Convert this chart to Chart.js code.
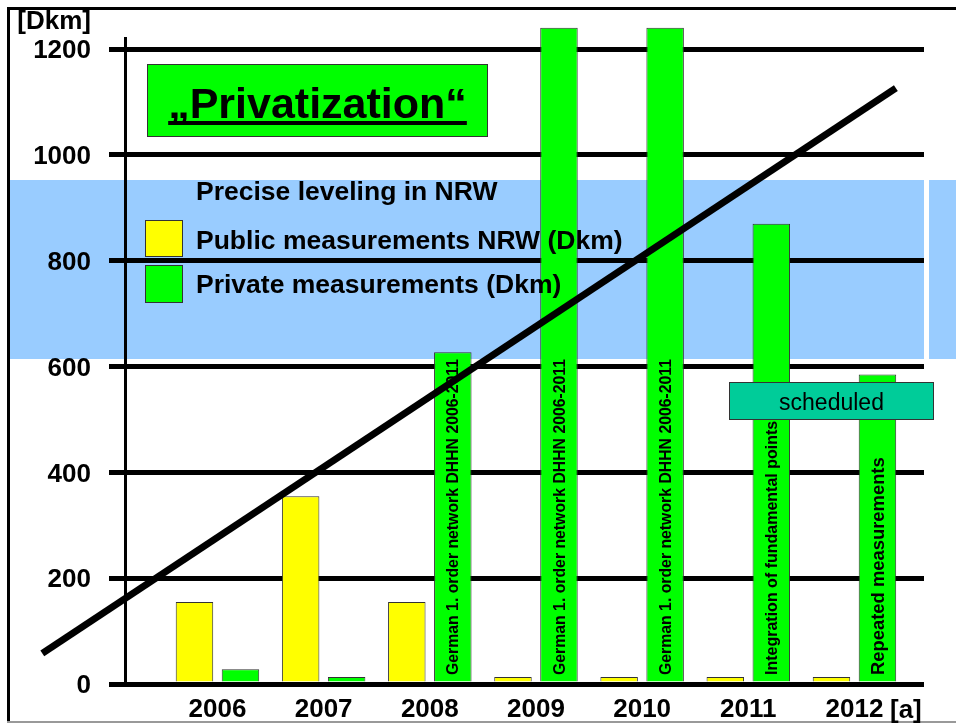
<!DOCTYPE html>
<html>
<head>
<meta charset="utf-8">
<title>Privatization - Precise leveling in NRW</title>
<script src="https://cdn.jsdelivr.net/npm/chart.js@4.4.1/dist/chart.umd.min.js"></script>
<style>
    html, body { margin: 0; padding: 0; background: #fff; }
    #wrap { position: relative; width: 956px; height: 725px; }
</style>
</head>
<body>
<div id="wrap"><canvas id="chart"></canvas></div>
<script>
// Data
const years = [2006, 2007, 2008, 2009, 2010, 2011, 2012];
const yearLabels = ['2006', '2007', '2008', '2009', '2010', '2011', '2012'];
const publicKm = [155, 355, 155, 13, 13, 13, 13];
const privateKm = [28, 13, 627, 1240, 1240, 870, 585];
const privateNotes = [
    '', '',
    'German 1. order network DHHN 2006-2011',
    'German 1. order network DHHN 2006-2011',
    'German 1. order network DHHN 2006-2011',
    'Integration of fundamental points',
    'Repeated measurements'
];
// trend line end points (year, Dkm)
const trendYears = [2004.35, 2012.39];
const trendKm = [58, 1126];
const yTicks = [0, 200, 400, 600, 800, 1000, 1200];

const FONT = '"Liberation Sans", Arial, Helvetica, sans-serif';
Chart.defaults.font.family = FONT;
Chart.defaults.color = '#000';

const YELLOW = '#FFFF00';
const GREEN = '#00FF00';
const OUTLINE = '#333333';

function noteSize(text) {
    if (text.startsWith('German')) return 15.8;
    if (text.startsWith('Integration')) return 16;
    return 18.4;
}

function box(ctx, x, y, w, h, fill) {
    ctx.fillStyle = fill;
    ctx.fillRect(x, y, w, h);
    ctx.strokeStyle = OUTLINE;
    ctx.lineWidth = 1;
    ctx.strokeRect(x + 0.5, y + 0.5, w - 1, h - 1);
}

const decorPlugin = {
    id: 'decor',
    beforeDraw(chart) {
        const ctx = chart.ctx;
        ctx.save();
        // slide frame
        ctx.fillStyle = '#000';
        ctx.fillRect(7, 7, 949, 3);
        ctx.fillRect(7, 7, 3, 716);
        ctx.fillStyle = '#999';
        ctx.fillRect(7, 721, 949, 2);
        // light blue band behind the legend
        ctx.fillStyle = '#99CCFF';
        ctx.fillRect(10, 180, 914, 179);
        ctx.fillRect(929, 180, 27, 179);
        ctx.restore();
    },
    beforeDatasetDraw(chart, args) {
        if (args.index !== 2) return;
        const ctx = chart.ctx;
        ctx.save();

        // notes written inside the green bars
        const greenBars = chart.getDatasetMeta(1).data;
        ctx.fillStyle = '#000';
        privateNotes.forEach((text, i) => {
            if (!text) return;
            const size = noteSize(text);
            ctx.save();
            ctx.font = `bold ${size}px ${FONT}`;
            ctx.textAlign = 'left';
            ctx.textBaseline = 'alphabetic';
            ctx.translate(greenBars[i].x + size * 0.358, 675);
            ctx.rotate(-Math.PI / 2);
            ctx.fillText(text, 0, 0);
            ctx.restore();
        });

        // legend
        ctx.fillStyle = '#000';
        ctx.font = `bold 26.5px ${FONT}`;
        ctx.textAlign = 'left';
        ctx.textBaseline = 'alphabetic';
        ctx.fillText('Precise leveling in NRW', 196, 200);
        box(ctx, 145, 220, 38, 37, YELLOW);
        box(ctx, 145, 265, 38, 38, GREEN);
        ctx.fillStyle = '#000';
        ctx.fillText(chart.data.datasets[0].label, 196, 249);
        ctx.fillText(chart.data.datasets[1].label, 196, 293);

        // title box
        box(ctx, 147, 64, 341, 73, GREEN);
        ctx.fillStyle = '#000';
        ctx.font = `bold 43px ${FONT}`;
        ctx.textAlign = 'center';
        const title = '\u201EPrivatization\u201C';
        ctx.fillText(title, 317.5, 118);
        const tw = ctx.measureText(title).width;
        ctx.fillRect(317.5 - tw / 2, 121, tw, 4);

        // scheduled box
        box(ctx, 729, 382, 205, 38, '#00CC99');
        ctx.fillStyle = '#000';
        ctx.font = `23px ${FONT}`;
        ctx.fillText('scheduled', 831.5, 410);

        ctx.restore();
    },
    afterDraw(chart) {
        const ctx = chart.ctx;
        ctx.save();
        ctx.fillStyle = '#000';
        ctx.font = `bold 26px ${FONT}`;
        ctx.textAlign = 'right';
        ctx.fillText('[Dkm]', 91, 29);
        ctx.textAlign = 'left';
        ctx.fillText('[a]', 890, 718);
        ctx.restore();
    }
};

new Chart(document.getElementById('chart'), {
    type: 'bar',
    data: {
        datasets: [
            {
                label: 'Public measurements NRW (Dkm)',
                data: years.map((x, i) => ({ x, y: publicKm[i] })),
                backgroundColor: YELLOW,
                borderColor: OUTLINE,
                borderWidth: 1,
                categoryPercentage: 0.8665,
                barPercentage: 0.815,
                clip: false
            },
            {
                label: 'Private measurements (Dkm)',
                data: years.map((x, i) => ({ x, y: privateKm[i] })),
                backgroundColor: GREEN,
                borderColor: OUTLINE,
                borderWidth: 1,
                categoryPercentage: 0.8665,
                barPercentage: 0.815,
                clip: false
            },
            {
                type: 'line',
                label: 'Trend',
                data: trendYears.map((x, i) => ({ x, y: trendKm[i] })),
                borderColor: '#000',
                borderWidth: 7,
                borderCapStyle: 'butt',
                pointRadius: 0,
                tension: 0,
                clip: false,
                order: -1
            }
        ]
    },
    options: {
        responsive: true,
        maintainAspectRatio: false,
        animation: false,
        devicePixelRatio: 1,
        layout: { padding: { top: 38, right: 32, bottom: 0, left: 0 } },
        plugins: {
            legend: { display: false },
            tooltip: { enabled: false }
        },
        scales: {
            x: {
                type: 'linear',
                offset: false,
                min: 2005.129,
                max: 2012.655,
                grid: { display: false, drawTicks: false, offset: false },
                border: { display: false },
                afterBuildTicks: s => { s.ticks = years.map(v => ({ value: v })); },
                afterFit: s => { s.height = 41; },
                ticks: {
                    autoSkip: false,
                    maxRotation: 0,
                    padding: 10,
                    color: '#000',
                    font: { size: 26, weight: 'bold' },
                    callback: v => yearLabels[years.indexOf(v)] ?? ''
                }
            },
            y: {
                min: 0,
                max: 1220.8,
                afterBuildTicks: s => { s.ticks = yTicks.map(v => ({ value: v })); },
                afterFit: s => { s.width = 125; },
                grid: { color: '#000', lineWidth: 5, tickLength: 16, drawTicks: true },
                border: { color: '#000', width: 3 },
                ticks: {
                    color: '#000',
                    padding: 18,
                    labelOffset: 2,
                    font: { size: 26, weight: 'bold' },
                    callback: v => String(v)
                }
            }
        }
    },
    plugins: [decorPlugin]
});
</script>
</body>
</html>
